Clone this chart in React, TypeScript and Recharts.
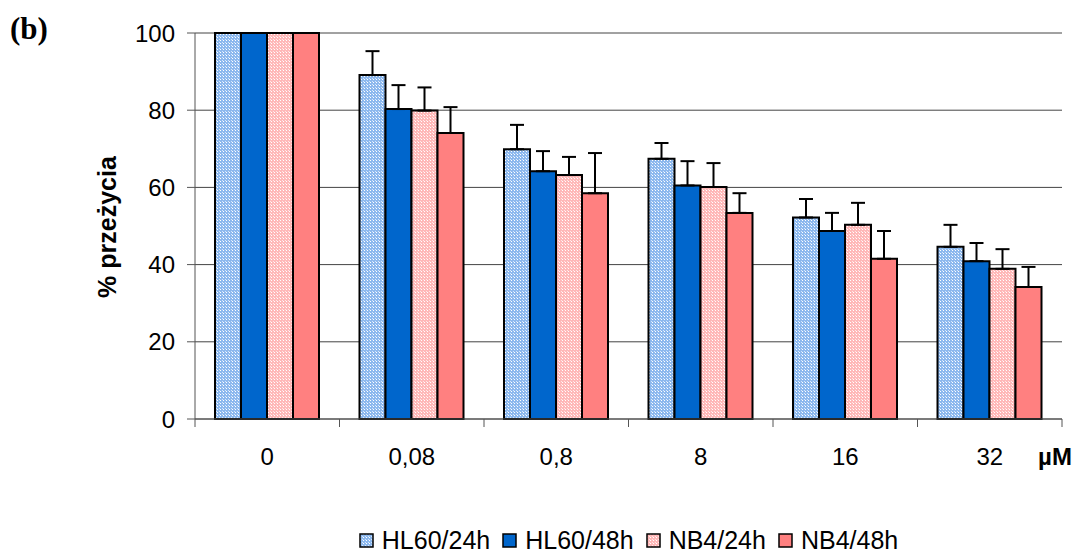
import React from 'react';
import { BarChart, Bar, XAxis, YAxis, CartesianGrid, ErrorBar } from 'recharts';

const categories = ['0', '0,08', '0,8', '8', '16', '32'];
const seriesNames = ['HL60/24h', 'HL60/48h', 'NB4/24h', 'NB4/48h'];
const hl60_24 = [100, 89.1, 69.9, 67.4, 52.2, 44.6];
const hl60_24err = [0, 6.2, 6.3, 4.1, 4.8, 5.7];
const hl60_48 = [100, 80.3, 64.2, 60.5, 48.7, 40.9];
const hl60_48err = [0, 6.2, 5.2, 6.3, 4.7, 4.7];
const nb4_24 = [100, 79.9, 63.2, 60.1, 50.3, 38.9];
const nb4_24err = [0, 6.0, 4.7, 6.2, 5.7, 5.1];
const nb4_48 = [100, 74.1, 58.5, 53.4, 41.5, 34.2];
const nb4_48err = [0, 6.7, 10.4, 5.1, 7.2, 5.2];
const yTicks = [0, 20, 40, 60, 80, 100];

const W = 1075;
const H = 554;
const M = { top: 33, right: 13, bottom: 75, left: 0 };
const Y_W = 195;
const X_H = 60;
const PLOT_W = W - M.left - M.right - Y_W;

const FONT = '"Liberation Sans", Arial, Helvetica, sans-serif';

const fills = ['url(#patBlue)', '#0066CC', 'url(#patPink)', '#FF8080'];
const keys = ['hl60_24', 'hl60_48', 'nb4_24', 'nb4_48'];

const data = categories.map((c, i) => ({
  cat: c,
  hl60_24: hl60_24[i],
  hl60_24e: [0, hl60_24err[i]],
  hl60_48: hl60_48[i],
  hl60_48e: [0, hl60_48err[i]],
  nb4_24: nb4_24[i],
  nb4_24e: [0, nb4_24err[i]],
  nb4_48: nb4_48[i],
  nb4_48e: [0, nb4_48err[i]],
}));

const XTick = (props: any) => {
  const { x, y, payload, index } = props;
  const bw = PLOT_W / categories.length;
  const isLast = index === categories.length - 1;
  return (
    <g>
      <line x1={x - bw / 2} x2={x - bw / 2} y1={y - 8} y2={y} stroke="#555" strokeWidth={1} />
      {isLast && <line x1={x + bw / 2} x2={x + bw / 2} y1={y - 8} y2={y} stroke="#555" strokeWidth={1} />}
      <text x={x} y={y + 38} textAnchor="middle" fontSize={24} fontFamily={FONT} fill="#000">
        {payload.value}
      </text>
    </g>
  );
};

const Patterns = () => (
  <svg width={0} height={0} style={{ position: 'absolute' }}>
    <defs>
      <pattern id="patBlue" x={0} y={0} width={3} height={3} patternUnits="userSpaceOnUse">
        <rect width={3} height={3} fill="#8CB8EE" />
        <rect x={1} y={1} width={1} height={1} fill="#FFFFFF" />
        <rect x={0} y={0} width={1} height={1} fill="#D6E6FA" />
      </pattern>
      <pattern id="patPink" x={0} y={0} width={3} height={3} patternUnits="userSpaceOnUse">
        <rect width={3} height={3} fill="#FFB8B8" />
        <rect x={1} y={1} width={1} height={1} fill="#FFFFFF" />
        <rect x={0} y={0} width={1} height={1} fill="#FFE6E6" />
      </pattern>
    </defs>
  </svg>
);

export default function App() {
  return (
    <div style={{ position: 'absolute', left: 0, top: 0, width: W, height: H, background: '#fff', fontFamily: FONT }}>
      <Patterns />
      <BarChart width={W} height={H} data={data} margin={M} barGap={0} barSize={26}>
        <CartesianGrid vertical={false} stroke="#444" strokeWidth={1} />
        <XAxis
          dataKey="cat"
          height={X_H}
          tickSize={8}
          tickMargin={0}
          tickLine={false}
          axisLine={{ stroke: '#555', strokeWidth: 1 }}
          tick={<XTick />}
          interval={0}
        />
        <YAxis
          width={Y_W}
          domain={[0, 100]}
          ticks={yTicks}
          tickSize={8}
          tickMargin={12}
          axisLine={{ stroke: '#555', strokeWidth: 1 }}
          tickLine={{ stroke: '#555', strokeWidth: 1 }}
          tick={{ fontSize: 24, fill: '#000', fontFamily: FONT }}
          interval={0}
        />
        {keys.map((k, i) => (
          <Bar key={k} dataKey={k} name={seriesNames[i]} fill={fills[i]} stroke="#000" strokeWidth={2} isAnimationActive={false}>
            <ErrorBar dataKey={`${k}e`} direction="y" width={7} stroke="#000" strokeWidth={2} isAnimationActive={false} />
          </Bar>
        ))}
      </BarChart>
      <svg width={W} height={H} style={{ position: 'absolute', left: 0, top: 0, pointerEvents: 'none' }}>
        <text x={10} y={39} fontFamily='"Liberation Serif", "Times New Roman", serif' fontWeight="bold" fontSize={31} fill="#000">(b)</text>
        <text
          x={0}
          y={0}
          transform="translate(116,227) rotate(-90)"
          textAnchor="middle"
          fontFamily={FONT}
          fontWeight="bold"
          fontSize={25}
          fill="#000"
        >
          % przeżycia
        </text>
        <text x={1055} y={465} textAnchor="middle" fontFamily={FONT} fontWeight="bold" fontSize={24} fill="#000">µM</text>
      </svg>
      <div
        style={{
          position: 'absolute',
          left: Y_W,
          width: PLOT_W,
          top: 526,
          height: 28,
          display: 'flex',
          justifyContent: 'center',
          alignItems: 'center',
          fontSize: 25,
          fontFamily: FONT,
          color: '#000',
        }}
      >
        {seriesNames.map((n, i) => (
          <div key={n} style={{ display: 'flex', alignItems: 'center', marginRight: i < seriesNames.length - 1 ? 12 : 0 }}>
            <svg width={15} height={15} style={{ marginRight: 8 }}>
              <rect x={1} y={1} width={13} height={13} fill={fills[i]} stroke="#000" strokeWidth={1.5} />
            </svg>
            <span>{n}</span>
          </div>
        ))}
      </div>
    </div>
  );
}
